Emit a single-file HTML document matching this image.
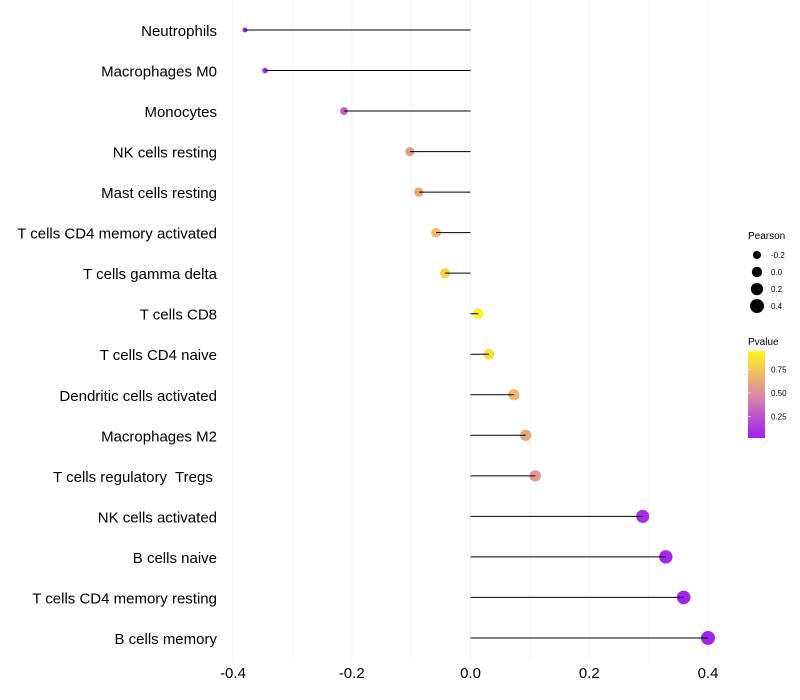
<!DOCTYPE html>
<html><head><meta charset="utf-8"><style>
body{margin:0;background:#fff;}
svg{display:block;font-family:"Liberation Sans",Arial,sans-serif;}
text{white-space:pre;}
</style></head><body>
<svg id="chart" width="800" height="700">
<defs><linearGradient id="pg" x1="0" y1="1" x2="0" y2="0">
<stop offset="0" stop-color="#a01ef0"/><stop offset="0.5" stop-color="#dc8aa6"/><stop offset="1" stop-color="#fff51c"/></linearGradient></defs>
<g id="grid"></g><g id="dots"></g><g id="marks"></g><g id="labels"></g><g id="legend"></g>
</svg>
<script>
const categories=["Neutrophils","Macrophages M0","Monocytes","NK cells resting","Mast cells resting","T cells CD4 memory activated","T cells gamma delta","T cells CD8","T cells CD4 naive","Dendritic cells activated","Macrophages M2","T cells regulatory  Tregs ","NK cells activated","B cells naive","T cells CD4 memory resting","B cells memory"];
const pearson=[-0.380,-0.346,-0.213,-0.102,-0.087,-0.058,-0.043,0.013,0.031,0.073,0.093,0.109,0.290,0.329,0.359,0.400];
const pvalues=[0.05,0.08,0.30,0.60,0.65,0.75,0.85,0.97,0.90,0.72,0.65,0.58,0.06,0.04,0.03,0.02];
const xTicks=[-0.4,-0.2,0.0,0.2,0.4];
const xTickLabels=["-0.4","-0.2","0.0","0.2","0.4"];
const sizeLegend=[-0.2,0.0,0.2,0.4];
const colorTicks=[0.25,0.5,0.75];

const NS="http://www.w3.org/2000/svg";
const X=v=>470.5+v*593.75;
const Y=i=>30+i*40.53;
const R=v=>Math.sqrt(Math.max(2.2,27+55*v));
function lerp(a,b,t){return Math.round(a+(b-a)*t);}
function col(p){const s=[[160,30,240],[220,138,166],[255,245,28]];let t=Math.max(0,Math.min(1,p));let a,b,u;if(t<0.5){a=s[0];b=s[1];u=t/0.5;}else{a=s[1];b=s[2];u=(t-0.5)/0.5;}return `rgb(${lerp(a[0],b[0],u)},${lerp(a[1],b[1],u)},${lerp(a[2],b[2],u)})`;}
function mk(tag,attrs,parent,text){const e=document.createElementNS(NS,tag);for(const k in attrs)e.setAttribute(k,attrs[k]);if(text!==undefined)e.textContent=text;parent.appendChild(e);return e;}
const grid=document.getElementById('grid'),dots=document.getElementById('dots'),marks=document.getElementById('marks'),labels=document.getElementById('labels'),legend=document.getElementById('legend');
for(let v=-0.4;v<=0.4001;v+=0.1){const g=mk('line',{x1:X(v),x2:X(v),y1:0,y2:660,stroke:'#f2f2f2','stroke-width':1},grid);

}
xTicks.forEach((v,i)=>{const t=mk('text',{x:X(v),y:678,'text-anchor':'middle','font-size':15,fill:'#000'},labels,xTickLabels[i]);

});
categories.forEach((c,i)=>{
const t=mk('text',{x:217,y:Y(i)+6,'text-anchor':'end','font-size':15,fill:'#000'},labels,c);


const d=mk('circle',{cx:X(pearson[i]),cy:Y(i),r:R(pearson[i]),fill:col(pvalues[i])},dots);


const l=mk('line',{x1:X(0),x2:X(pearson[i]),y1:Y(i),y2:Y(i),stroke:'#000','stroke-width':1},marks);


});
let lt=mk('text',{x:748,y:239,'font-size':10},legend,'Pearson');


sizeLegend.forEach((v,i)=>{const y=255+i*17;
const c=mk('circle',{cx:757,cy:y,r:R(v),fill:'#000'},legend);


const t=mk('text',{x:771,y:y+3,'font-size':8},legend,v.toFixed(1));

});
let ct=mk('text',{x:748,y:345,'font-size':10},legend,'Pvalue');


const cb=mk('rect',{x:748,y:351,width:17,height:87,fill:'url(#pg)'},legend);


const CY=p=>440-p*94;
colorTicks.forEach(v=>{
const t=mk('text',{x:771,y:CY(v)+3,'font-size':8},legend,v.toFixed(2));


const tk=mk('line',{x1:748,x2:751,y1:CY(v),y2:CY(v),stroke:'#fff','stroke-opacity':0.6},legend);

});
</script>
</body></html>
